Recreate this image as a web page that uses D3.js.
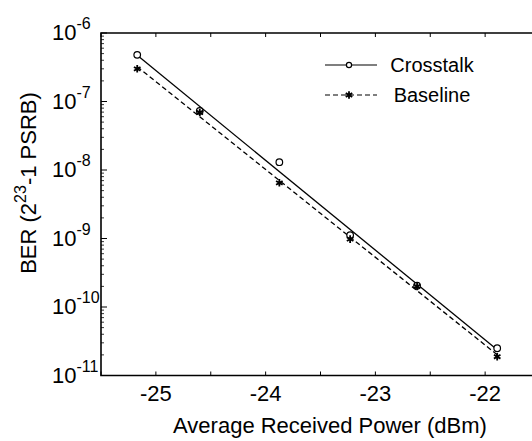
<!DOCTYPE html>
<html lang="en">
<head>
  <meta charset="UTF-8">
  <title>BER vs Received Power</title>
  <script src="https://d3js.org/d3.v7.min.js"></script>
  <style>
    body { margin: 0; background: #fff; }
    svg text { font-family: "Liberation Sans", Arial, Helvetica, sans-serif; fill: #000; }
  </style>
</head>
<body>
  <svg width="532" height="441"></svg>
  <script>
    // received power (dBm) of each measurement
    const powerDbm = [-25.17, -24.6, -23.875, -23.23, -22.62, -21.89];
    const crosstalkBer = [4.8e-7, 7.3e-8, 1.3e-8, 1.12e-9, 2.05e-10, 2.5e-11];
    const baselineBer = [3.0e-7, 6.9e-8, 6.5e-9, 9.8e-10, 2.0e-10, 1.88e-11];

    const xTicks = [-25, -24, -23, -22];
    const yExponents = [-6, -7, -8, -9, -10, -11];
    const legendNames = ["Crosstalk", "Baseline"];

    const svg = d3.select("svg");
    const plotL = 101, plotT = 33, plotB = 375.5, plotR = 540;

    const x = d3.scaleLinear().domain([-25.5, -21.5]).range([plotL, plotR]);
    const y = d3.scaleLog().domain([1e-11, 1e-6]).range([plotB, plotT]);

    // least squares fit in log space, like the straight lines in the figure
    function fitLine(xs, ys) {
      const ly = ys.map(v => Math.log10(v));
      const mx = d3.mean(xs), my = d3.mean(ly);
      let sxy = 0, sxx = 0;
      xs.forEach((v, i) => { sxy += (v - mx) * (ly[i] - my); sxx += (v - mx) * (v - mx); });
      const slope = sxy / sxx;
      const x0 = xs[0], x1 = xs[xs.length - 1];
      return [[x0, Math.pow(10, my + slope * (x0 - mx))], [x1, Math.pow(10, my + slope * (x1 - mx))]];
    }

    const series = [
      { name: legendNames[0], values: crosstalkBer, dash: null, marker: "circle" },
      { name: legendNames[1], values: baselineBer, dash: "5,3", marker: "star" }
    ];

    const line = d3.line().x(d => x(d[0])).y(d => y(d[1]));

    series.forEach(s => {
      svg.append("path")
        .attr("d", line(fitLine(powerDbm, s.values)))
        .attr("fill", "none")
        .attr("stroke", "#000")
        .attr("stroke-width", 1.3)
        .attr("stroke-dasharray", s.dash);
    });

    const star = d3.symbol().type(d3.symbolAsterisk).size(40);

    function drawMarker(g, kind, cx, cy, r) {
      if (kind === "circle") {
        g.append("circle").attr("cx", cx).attr("cy", cy).attr("r", r || 3.3)
          .attr("fill", "#fff").attr("stroke", "#000").attr("stroke-width", 1.2);
      } else {
        g.append("path").attr("d", star()).attr("transform", `translate(${cx},${cy})`)
          .attr("fill", "none").attr("stroke", "#000").attr("stroke-width", 1.8);
      }
    }

    series.forEach(s => {
      const g = svg.append("g");
      powerDbm.forEach((p, i) => drawMarker(g, s.marker, x(p), y(s.values[i])));
    });

    // axes box (right side falls outside the picture)
    svg.append("path")
      .attr("d", `M${plotR},${plotT}H${plotL}V${plotB}H${plotR}`)
      .attr("fill", "none").attr("stroke", "#000").attr("stroke-width", 1.6);

    // x ticks every 0.5 dBm, pointing inward on bottom and top
    const xMinor = d3.range(-25.5, -21.49, 0.5);
    xMinor.forEach(v => {
      svg.append("line").attr("x1", x(v)).attr("x2", x(v)).attr("y1", plotB).attr("y2", plotB - 4)
        .attr("stroke", "#000").attr("stroke-width", 1);
      svg.append("line").attr("x1", x(v)).attr("x2", x(v)).attr("y1", plotT).attr("y2", plotT + 4)
        .attr("stroke", "#000").attr("stroke-width", 1);
    });

    svg.append("g").selectAll("text").data(xTicks).join("text")
      .attr("x", d => x(d)).attr("y", 401)
      .attr("text-anchor", "middle")
      .attr("font-size", 22)
      .text(d => d);

    // y ticks: decades and log minor ticks, inward
    yExponents.forEach(e => {
      const v = Math.pow(10, e);
      svg.append("line").attr("x1", plotL).attr("x2", plotL + 6).attr("y1", y(v)).attr("y2", y(v))
        .attr("stroke", "#000").attr("stroke-width", 1);
      if (e > -11) {
        for (let k = 2; k <= 9; k++) {
          const m = k * Math.pow(10, e - 1);
          svg.append("line").attr("x1", plotL).attr("x2", plotL + 3).attr("y1", y(m)).attr("y2", y(m))
            .attr("stroke", "#000").attr("stroke-width", 0.8);
        }
      }
    });

    const yLab = svg.append("g").selectAll("text").data(yExponents).join("text")
      .attr("x", 52).attr("y", d => y(Math.pow(10, d)) + 7)
      .attr("font-size", 22);
    yLab.append("tspan").text("10");
    yLab.append("tspan").attr("font-size", 16).attr("dy", -11).text(d => d);

    // axis titles
    svg.append("text")
      .attr("x", 330).attr("y", 433)
      .attr("text-anchor", "middle").attr("font-size", 22)
      .text("Average Received Power (dBm)");

    const yt = svg.append("text")
      .attr("transform", "translate(36,183) rotate(-90)")
      .attr("text-anchor", "middle").attr("font-size", 22);
    yt.append("tspan").text("BER (2");
    yt.append("tspan").attr("font-size", 16).attr("dy", -10).text("23");
    yt.append("tspan").attr("dy", 10).text("-1 PSRB)");

    // legend
    const legY = [65, 95];
    series.forEach((s, i) => {
      const g = svg.append("g");
      g.append("line").attr("x1", 325).attr("x2", 377).attr("y1", legY[i]).attr("y2", legY[i])
        .attr("stroke", "#000").attr("stroke-width", 1.2).attr("stroke-dasharray", s.dash);
      drawMarker(g, s.marker, 349, legY[i], 2.6);
      g.append("text").attr("x", 432).attr("y", legY[i] + 7)
        .attr("text-anchor", "middle").attr("font-size", 20)
        .text(s.name);
    });
  </script>
</body>
</html>
